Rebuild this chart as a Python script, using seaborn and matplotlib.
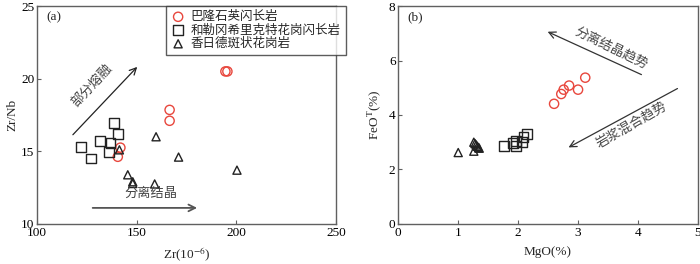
import matplotlib
matplotlib.use("Agg")
import matplotlib.pyplot as plt
import pandas as pd
import seaborn as sns

# panel (a): Zr vs Zr/Nb
balong_zr = [140.5, 141.8, 166.5, 166.5, 194.5, 195.5]
balong_zrnb = [14.62, 15.25, 17.85, 17.1, 20.5, 20.5]
helegang_zr = [122, 127.2, 131.5, 136.8, 136.2, 138.5, 140.5]
helegang_zrnb = [15.27, 14.5, 15.72, 15.57, 14.97, 16.97, 16.2]
xiangride_zr = [141.3, 159.7, 171, 200.3, 145.5, 148, 148, 159]
xiangride_zrnb = [15.1, 16.0, 14.6, 13.7, 13.38, 12.9, 12.78, 12.75]

# panel (b): MgO vs FeOT
balong_mgo = [2.6, 2.72, 2.76, 2.85, 3.0, 3.12]
balong_feo = [4.41, 4.77, 4.93, 5.08, 4.93, 5.37]
helegang_mgo = [1.76, 1.91, 1.96, 1.97, 2.06, 2.09, 2.15]
helegang_feo = [2.87, 2.97, 3.05, 2.87, 3.02, 3.19, 3.31]
xiangride_mgo = [1.0, 1.26, 1.26, 1.28, 1.3, 1.32, 1.34, 1.35]
xiangride_feo = [2.62, 2.67, 3.0, 2.95, 2.9, 2.85, 2.8, 2.78]

groups = ["巴隆石英闪长岩", "和勒冈希里克特花岗闪长岩", "香日德斑状花岗岩"]
markers = ["o", "s", "^"]
colors = ["#e8473d", "#222222", "#222222"]
sizes = [44, 50, 34]

sns.set_style("ticks")
plt.rcParams["font.family"] = ["Liberation Serif", "Noto Sans CJK SC"]
plt.rcParams["mathtext.fontset"] = "stix"
plt.rcParams["axes.edgecolor"] = "#606060"
plt.rcParams["xtick.color"] = "#606060"
plt.rcParams["ytick.color"] = "#606060"
plt.rcParams["xtick.labelcolor"] = "black"
plt.rcParams["ytick.labelcolor"] = "black"

fig = plt.figure(figsize=(7, 2.64), dpi=100)
ax1 = fig.add_axes([0.053, 0.152, 0.427, 0.825])
ax2 = fig.add_axes([0.569, 0.152, 0.428, 0.825])

data_a = [(balong_zr, balong_zrnb), (helegang_zr, helegang_zrnb), (xiangride_zr, xiangride_zrnb)]
data_b = [(balong_mgo, balong_feo), (helegang_mgo, helegang_feo), (xiangride_mgo, xiangride_feo)]

for ax, data in [(ax1, data_a), (ax2, data_b)]:
    for name, (xs, ys), m, c, s in zip(groups, data, markers, colors, sizes):
        df = pd.DataFrame({"x": xs, "y": ys})
        sns.scatterplot(data=df, x="x", y="y", ax=ax, marker=m, s=s,
                        facecolors="none", edgecolor=c, linewidth=1.0,
                        label=name, zorder=3)
    ax.tick_params(direction="in", length=3, width=0.8, labelsize=9.5, pad=2)
    for sp in ax.spines.values():
        sp.set_linewidth(1.0)

# panel (a)
ax1.set_xlim(100, 250)
ax1.set_ylim(10, 25)
ax1.set_xticks([100, 150, 200, 250])
ax1.set_yticks([10, 15, 20, 25])
ax1.set_xlabel("Zr(10$^{-6}$)", fontsize=9.5, labelpad=5)
ax1.set_ylabel("Zr/Nb", fontsize=9.5, labelpad=2)
ax1.text(0.03, 0.975, "(a)", transform=ax1.transAxes, fontsize=9.5, va="top")
ax1.legend(loc="upper left", bbox_to_anchor=(0.43, 1.0), borderaxespad=0,
           frameon=True, fancybox=False, edgecolor="#333333", fontsize=9,
           handletextpad=0.4, borderpad=0.4, labelspacing=0.1, handlelength=1.2)
ax1.annotate("", xy=(151.2, 20.95), xytext=(117, 16.0),
             arrowprops=dict(arrowstyle="->", color="#222222", lw=0.9, mutation_scale=12))
ax1.text(127.5, 19.5, "部分熔融", rotation=47, rotation_mode="anchor",
         ha="center", va="center", fontsize=9.5, color="#444444")
ax1.annotate("", xy=(181.7, 11.1), xytext=(126.5, 11.1),
             arrowprops=dict(arrowstyle="->", color="#555555", lw=1.3, mutation_scale=12))
ax1.text(157, 12.05, "分离结晶", ha="center", va="center", fontsize=9.5, color="#444444")

# panel (b)
ax2.set_xlim(0, 5)
ax2.set_ylim(0, 8)
ax2.set_xticks([0, 1, 2, 3, 4, 5])
ax2.set_yticks([0, 2, 4, 6, 8])
ax2.set_xlabel("MgO(%)", fontsize=9.5, labelpad=5)
ax2.set_ylabel("FeO$^{\\rm T}$(%)", fontsize=9.5, labelpad=4)
ax2.text(0.03, 0.975, "(b)", transform=ax2.transAxes, fontsize=9.5, va="top")
ax2.legend_.remove()
ax2.annotate("", xy=(2.45, 7.1), xytext=(4.1, 5.44),
             arrowprops=dict(arrowstyle="->", color="#333333", lw=0.9, mutation_scale=12))
ax2.text(3.55, 6.46, "分离结晶趋势", rotation=-26, rotation_mode="anchor",
         ha="center", va="center", fontsize=9.5, color="#444444")
ax2.annotate("", xy=(2.8, 2.76), xytext=(4.7, 5.02),
             arrowprops=dict(arrowstyle="->", color="#333333", lw=0.9, mutation_scale=12))
ax2.text(3.9, 3.62, "岩浆混合趋势", rotation=30, rotation_mode="anchor",
         ha="center", va="center", fontsize=9.5, color="#444444")

fig.savefig("out.png", dpi=100)
